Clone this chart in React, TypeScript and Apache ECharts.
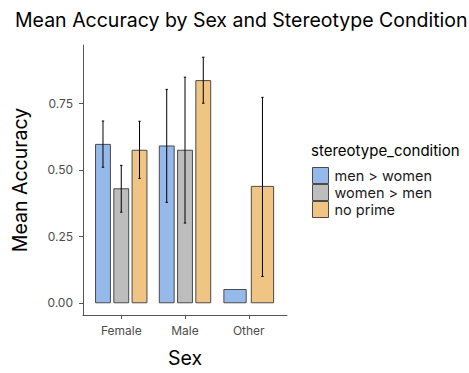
import React, { useEffect, useRef } from "react";
import * as echarts from "echarts";

const categories = ["Female", "Male", "Other"];
const conditions = ["men > women", "women > men", "no prime"];
const colors = ["#95B9EA", "#BDBDBD", "#F0C584"];
// mean accuracy per condition, per category (null = no data)
const meanMenWomen = [0.596, 0.59, 0.05];
const meanWomenMen = [0.429, 0.574, null];
const meanNoPrime = [0.574, 0.836, 0.438];
const lowMenWomen = [0.51, 0.378, null];
const highMenWomen = [0.684, 0.803, null];
const lowWomenMen = [0.341, 0.3, null];
const highWomenMen = [0.517, 0.849, null];
const lowNoPrime = [0.468, 0.751, 0.099];
const highNoPrime = [0.683, 0.924, 0.773];
const yTicks = [0, 0.25, 0.5, 0.75];

const means = [meanMenWomen, meanWomenMen, meanNoPrime];
const lows = [lowMenWomen, lowWomenMen, lowNoPrime];
const highs = [highMenWomen, highWomenMen, highNoPrime];

const FONT = "Inter";
const DODGE = 0.86;
const WIDTH = 0.7;

export default function App() {
  const ref = useRef<HTMLDivElement>(null);
  useEffect(() => {
    document.body.style.margin = "0";
    if (!ref.current) return;
    const chart = echarts.init(ref.current, undefined, { renderer: "svg" });

    const series = conditions.map((name, s) => {
      const data: any[] = [];
      categories.forEach((_, c) => {
        const v = means[s][c];
        if (v === null) return;
        const present = means.map((m) => m[c]).map((x, i) => (x === null ? -1 : i)).filter((i) => i >= 0);
        const n = present.length;
        const pos = present.indexOf(s);
        const center = c + 1 + (pos - (n - 1) / 2) * (DODGE / n);
        data.push({ value: [center, v, lows[s][c], highs[s][c], WIDTH / n] });
      });
      return {
        type: "custom",
        name,
        itemStyle: { color: colors[s], borderColor: "#4a4a4a", borderWidth: 1 },
        data,
        renderItem: (params: any, api: any) => {
          const x = api.value(0);
          const v = api.value(1);
          const lo = api.value(2);
          const hi = api.value(3);
          const w = api.value(4);
          const top = api.coord([x, v]);
          const base = api.coord([x, 0]);
          const bw = api.size([w, 0])[0];
          const children: any[] = [
            {
              type: "rect",
              shape: { x: top[0] - bw / 2, y: top[1], width: bw, height: base[1] - top[1] },
              style: { fill: colors[s], stroke: "#4a4a4a", lineWidth: 1 },
            },
          ];
          if (!isNaN(lo) && !isNaN(hi) && lo !== null && hi !== null) {
            const pl = api.coord([x, lo]);
            const ph = api.coord([x, hi]);
            const cw = 1.2;
            children.push(
              { type: "line", shape: { x1: pl[0], y1: pl[1], x2: ph[0], y2: ph[1] }, style: { stroke: "#000", lineWidth: 1 } },
              { type: "line", shape: { x1: pl[0] - cw, y1: pl[1], x2: pl[0] + cw, y2: pl[1] }, style: { stroke: "#000", lineWidth: 1 } },
              { type: "line", shape: { x1: ph[0] - cw, y1: ph[1], x2: ph[0] + cw, y2: ph[1] }, style: { stroke: "#000", lineWidth: 1 } }
            );
          }
          return { type: "group", children };
        },
      };
    });

    chart.setOption({
      animation: false,
      textStyle: { fontFamily: FONT },
      title: {
        text: "Mean Accuracy by Sex and Stereotype Condition",
        left: 10,
        top: 5,
        textStyle: { fontFamily: FONT, fontSize: 19.5, fontWeight: "normal", color: "#000" },
      },
      grid: { left: 83, right: 182, top: 45, bottom: 58, containLabel: false },
      legend: {
        orient: "vertical",
        left: 312,
        top: 167,
        padding: 0,
        itemWidth: 16,
        itemHeight: 16,
        itemGap: 0,
        icon: "rect",
        data: conditions.map((name, i) => ({
          name,
          itemStyle: { color: colors[i], borderColor: "#4a4a4a", borderWidth: 1 },
        })),
        textStyle: { fontFamily: FONT, fontSize: 14.5, color: "#1a1a1a", lineHeight: 16, height: 16, padding: [0, 0, 0, 1] },
        selectedMode: false,
      },
      graphic: [
        {
          type: "text",
          left: 311,
          top: 143,
          style: { text: "stereotype_condition", fontFamily: FONT, fontSize: 15, fill: "#000" },
        },
      ],
      xAxis: {
        type: "value",
        min: 0.4,
        max: 3.6,
        name: "Sex",
        nameLocation: "middle",
        nameGap: 33,
        nameTextStyle: { fontFamily: FONT, fontSize: 19.5, color: "#000" },
        splitLine: { show: false },
        axisLine: { show: true, onZero: false, lineStyle: { color: "#555", width: 1 } },
        axisTick: { show: true, length: 4, customValues: [1, 2, 3], lineStyle: { color: "#555" } },
        axisLabel: {
          customValues: [1, 2, 3],
          formatter: (v: number) => categories[Math.round(v) - 1] ?? "",
          fontFamily: FONT,
          fontSize: 12,
          color: "#4d4d4d",
          margin: 9,
        },
      },
      yAxis: {
        type: "value",
        min: -0.046,
        max: 0.97,
        name: "Mean Accuracy",
        nameLocation: "middle",
        nameGap: 53,
        nameRotate: 90,
        nameTextStyle: { fontFamily: FONT, fontSize: 19.5, color: "#000" },
        splitLine: { show: false },
        axisLine: { show: true, onZero: false, lineStyle: { color: "#555", width: 1 } },
        axisTick: { show: true, length: 4, customValues: yTicks, lineStyle: { color: "#555" } },
        axisLabel: {
          customValues: yTicks,
          formatter: (v: number) => v.toFixed(2),
          fontFamily: FONT,
          fontSize: 12,
          color: "#4d4d4d",
          margin: 10,
        },
      },
      series,
    });
    return () => chart.dispose();
  }, []);
  return <div ref={ref} style={{ width: 469, height: 373 }} />;
}
